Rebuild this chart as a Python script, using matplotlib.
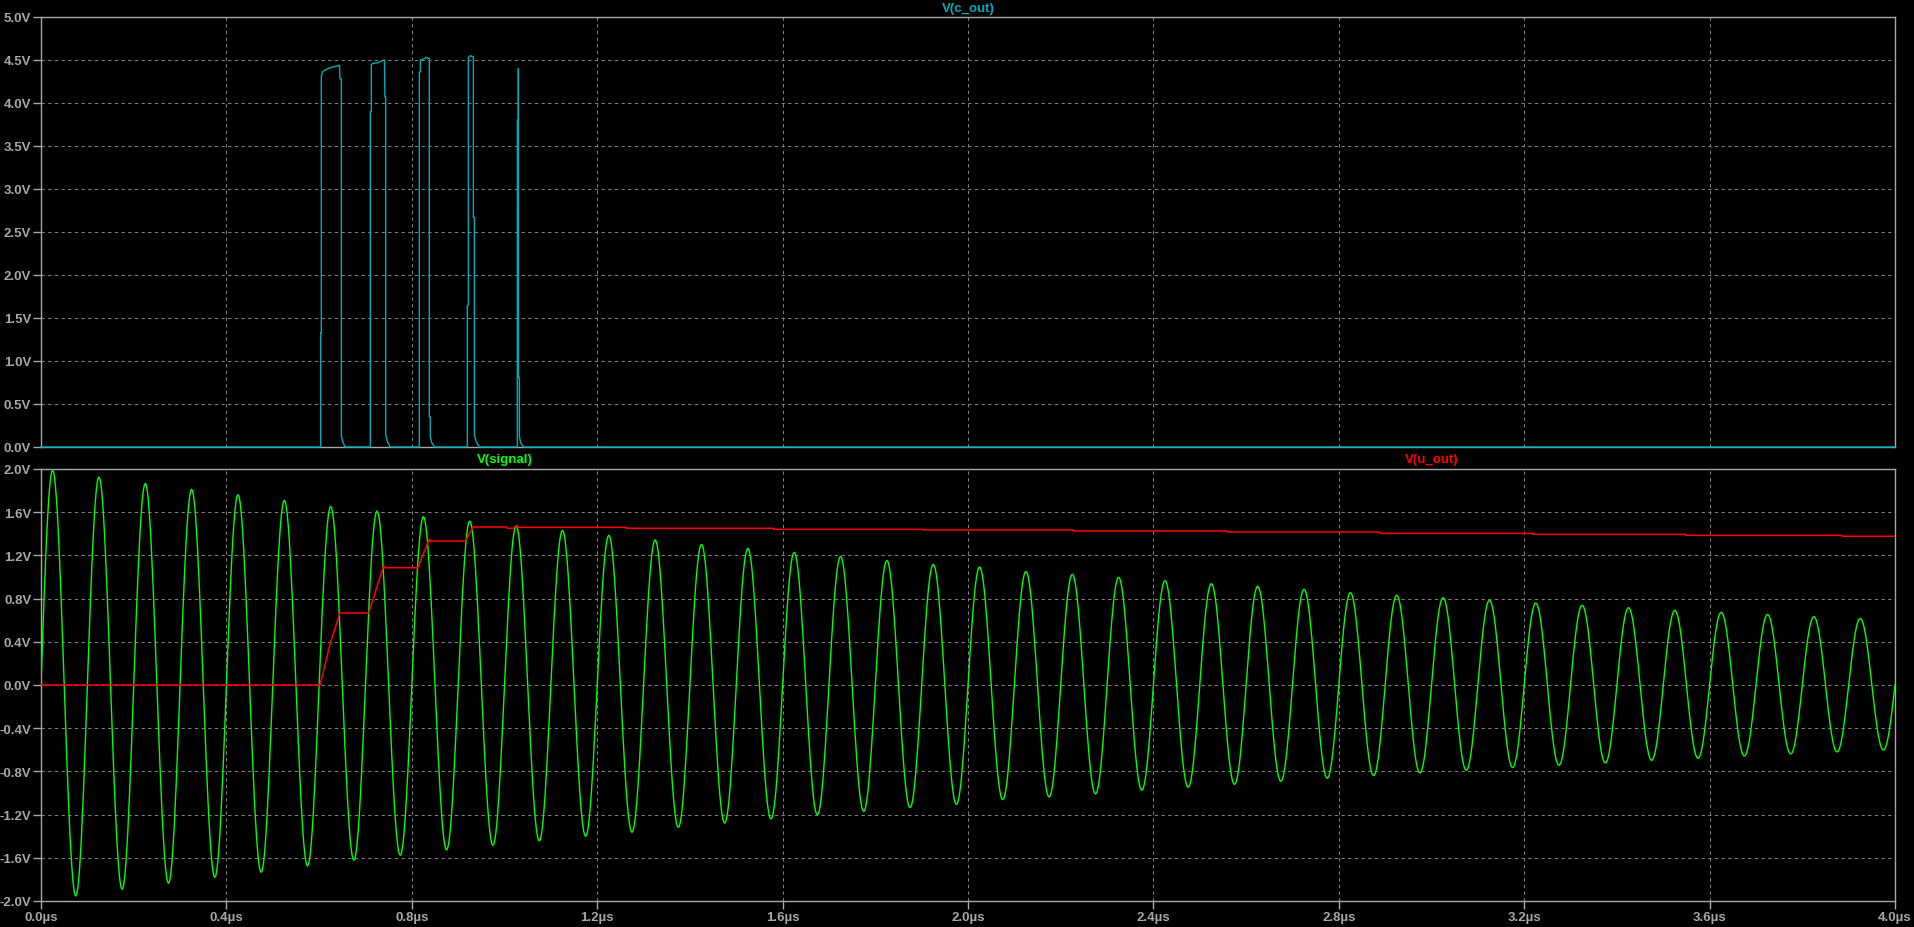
import numpy as np
import matplotlib
matplotlib.use('Agg')
import matplotlib.pyplot as plt

# ---- data (time in us, volts) ----
# V(c_out): comparator output pulses, breakpoints
c_out_t = [0.0, 0.6034, 0.6034, 0.6048, 0.6048, 0.607, 0.612, 0.619, 0.630, 0.640, 0.644, 0.645, 0.648, 0.648, 0.651, 0.656,
           0.7105, 0.7105, 0.7127, 0.7127, 0.717, 0.728, 0.735, 0.741, 0.742, 0.7437, 0.7437, 0.747, 0.753,
           0.8163, 0.8163, 0.8185, 0.8185, 0.825, 0.832, 0.836, 0.8378, 0.8378, 0.8399, 0.8399, 0.843, 0.849,
           0.9198, 0.9198, 0.922, 0.922, 0.926, 0.931, 0.9328, 0.9328, 0.935, 0.935, 0.939, 0.946,
           1.0277, 1.0277, 1.0299, 1.0299, 1.0300, 1.0321, 1.0321, 1.035, 1.0406, 4.0]
c_out_v = [0.0, 0.0, 1.33, 1.33, 4.30, 4.36, 4.38, 4.40, 4.42, 4.43, 4.44, 4.28, 4.28, 0.13, 0.06, 0.0,
           0.0, 3.90, 3.90, 4.45, 4.46, 4.47, 4.49, 4.50, 4.07, 4.07, 0.15, 0.07, 0.0,
           0.0, 4.36, 4.36, 4.50, 4.51, 4.53, 4.52, 4.52, 0.35, 0.35, 0.12, 0.05, 0.0,
           0.0, 1.65, 1.65, 4.53, 4.55, 4.54, 4.54, 2.67, 2.67, 0.14, 0.06, 0.0,
           0.0, 3.80, 3.80, 4.40, 0.81, 0.81, 0.12, 0.05, 0.0, 0.0]

# V(signal): damped 10 MHz ringing, value of each positive / negative extreme
sig_period = 0.1
sig_peaks = [1.988, 1.926, 1.867, 1.812, 1.762, 1.710, 1.654, 1.611, 1.559, 1.518,
             1.475, 1.432, 1.386, 1.343, 1.302, 1.265, 1.228, 1.191, 1.154, 1.117,
             1.093, 1.052, 1.025, 0.997, 0.966, 0.938, 0.914, 0.886, 0.855, 0.830,
             0.809, 0.784, 0.759, 0.738, 0.716, 0.691, 0.673, 0.654, 0.633, 0.617]
sig_troughs = [-1.954, -1.892, -1.836, -1.781, -1.735, -1.676, -1.623, -1.577, -1.528, -1.485,
               -1.444, -1.401, -1.364, -1.318, -1.278, -1.241, -1.204, -1.170, -1.136, -1.105,
               -1.062, -1.037, -1.009, -0.975, -0.947, -0.920, -0.892, -0.864, -0.839, -0.815,
               -0.790, -0.765, -0.744, -0.722, -0.698, -0.679, -0.657, -0.639, -0.620, -0.602]

# V(u_out): peak detector output, staircase
u_out_t = [0.0, 0.602, 0.625, 0.645, 0.707, 0.738, 0.741, 0.742, 0.813, 0.836, 0.839, 0.840, 0.916, 0.932,
           1.005, 1.006, 1.019, 1.026, 1.030, 1.262, 1.262, 1.581, 1.581, 1.903, 1.903, 2.228, 2.228,
           2.560, 2.560, 2.889, 2.889, 3.219, 3.219, 3.549, 3.549, 3.886, 3.886, 4.0]
u_out_v = [0.0, 0.0, 0.40, 0.667, 0.667, 1.086, 1.099, 1.086, 1.086, 1.333, 1.349, 1.333, 1.333, 1.463,
           1.463, 1.451, 1.451, 1.478, 1.460, 1.460, 1.451, 1.451, 1.441, 1.441, 1.435, 1.435, 1.426,
           1.426, 1.417, 1.417, 1.404, 1.404, 1.395, 1.395, 1.386, 1.386, 1.377, 1.377]

top_ticks = np.arange(0.0, 5.01, 0.5)
bot_ticks = np.arange(-2.0, 2.01, 0.4)
x_ticks = np.arange(0.0, 4.01, 0.4)

# colours
BG = 'black'
FRAME = '#a8a8a8'
GRID = '#808080'
CYAN = '#00acb8'
GREEN = '#00ff00'
RED = '#ff0000'
FS = 9.5

plt.rcParams['font.family'] = ['Liberation Sans', 'DejaVu Sans']
plt.rcParams['font.weight'] = 'bold'

fig = plt.figure(figsize=(19.14, 9.28), dpi=100, facecolor=BG)
W, H = 1914.0, 928.0
ax_top = fig.add_axes([41 / W, (H - 448) / H, 1854 / W, 430 / H])
ax_bot = fig.add_axes([41 / W, (H - 902) / H, 1854 / W, 432 / H])


def style_axes(ax, yticks, ylim):
    ax.set_facecolor(BG)
    ax.set_xlim(0, 4.0)
    ax.set_ylim(*ylim)
    for s in ax.spines.values():
        s.set_color(FRAME)
        s.set_linewidth(1.0)
    ax.set_yticks(yticks)
    ax.set_yticklabels(['%.1fV' % v if abs(v) > 1e-9 else '0.0V' for v in yticks])
    ax.set_xticks(x_ticks)
    ax.tick_params(axis='both', colors=FRAME, labelcolor=FRAME, length=6, width=1.0,
                   labelsize=FS, pad=1, direction='out')
    # dashed grid only inside the frame
    for x in x_ticks[1:-1]:
        ax.axvline(x, color=GRID, lw=0.75, ls=(0, (3.2, 3.2)), zorder=1)
    for y in yticks[1:-1]:
        ax.axhline(y, color=GRID, lw=0.75, ls=(0, (3.2, 3.2)), zorder=1)


style_axes(ax_top, top_ticks, (0.0, 5.0))
style_axes(ax_bot, bot_ticks, (-2.0, 2.0))
ax_top.tick_params(axis='x', labelbottom=False, length=0)
ax_bot.set_xticklabels(['%.1f\u00b5s' % x for x in x_ticks])

# top pane
ax_top.plot(c_out_t, c_out_v, color=CYAN, lw=1.0, zorder=3, clip_on=False)
ax_top.text(0.5, 1.006, 'V(c_out)', transform=ax_top.transAxes, color=CYAN,
            ha='center', va='bottom', fontsize=FS, fontweight='bold')

# bottom pane: ringing signal, each half cycle shaped as a sine lobe through the read extreme
half = sig_period / 2
extremes = []
for p, q in zip(sig_peaks, sig_troughs):
    extremes += [p, -q]
sig_t = []
sig_v = []
for k, a in enumerate(extremes):
    s = np.linspace(0, 1, 25)
    sign = 1 if k % 2 == 0 else -1
    sig_t.extend(k * half + s * half)
    sig_v.extend(sign * a * np.sin(np.pi * s))
ax_bot.plot(sig_t, sig_v, color=GREEN, lw=1.0, zorder=3)
ax_bot.plot(u_out_t, u_out_v, color=RED, lw=1.1, zorder=4)

ax_bot.text(0.25, 1.01, 'V(signal)', transform=ax_bot.transAxes, color=GREEN,
            ha='center', va='bottom', fontsize=FS, fontweight='bold')
ax_bot.text(0.75, 1.01, 'V(u_out)', transform=ax_bot.transAxes, color=RED,
            ha='center', va='bottom', fontsize=FS, fontweight='bold')

fig.savefig('out.png', dpi=100, facecolor=BG)
